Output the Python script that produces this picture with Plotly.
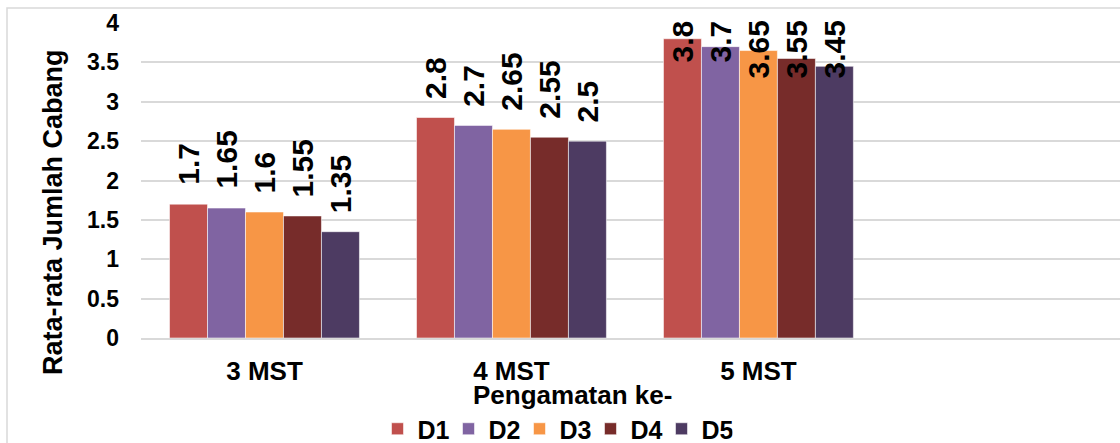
import plotly.graph_objects as go

# Average number of branches per observation week, five treatment doses
categories = ["3 MST", "4 MST", "5 MST"]
series_names = ["D1", "D2", "D3", "D4", "D5"]
d1 = [1.7, 2.8, 3.8]
d2 = [1.65, 2.7, 3.7]
d3 = [1.6, 2.65, 3.65]
d4 = [1.55, 2.55, 3.55]
d5 = [1.35, 2.5, 3.45]
values = [d1, d2, d3, d4, d5]
colors = ["#C0504D", "#8064A2", "#F79646", "#772C2A", "#4D3B62"]

y_ticks = [0, 0.5, 1, 1.5, 2, 2.5, 3, 3.5, 4]
y_tick_text = ["0", "0.5", "1", "1.5", "2", "2.5", "3", "3.5", "4"]

W, H = 1120, 443
M_L, M_R, M_T, M_B = 141, 0, 23, 105
X_RANGE = [-0.5, 3.464]
Y_RANGE = [0, 4]
BARGAP = 0.231

BOLD = "Liberation Sans, Arial, sans-serif"

fig = go.Figure()
for name, vals, col in zip(series_names, values, colors):
    fig.add_trace(go.Bar(
        name=name, x=categories, y=vals,
        marker=dict(color=col, line=dict(color="rgba(255,255,255,0.55)", width=1)),
    ))

# value labels, rotated, above each bar (kept under the top of the plot)
plot_w = W - M_L - M_R
plot_h = H - M_T - M_B
cat_px = plot_w / (X_RANGE[1] - X_RANGE[0])
bar_px = cat_px * (1 - BARGAP) / len(series_names)
px_per_unit = plot_h / (Y_RANGE[1] - Y_RANGE[0])
label_len_px = 62
annotations = []
for i, vals in enumerate(values):
    shift = (i - (len(series_names) - 1) / 2) * bar_px
    for cat, v in zip(categories, vals):
        fits = (Y_RANGE[1] - v) * px_per_unit >= label_len_px + 17
        ann = dict(
            x=cat, xref="x", yref="y", text=f"<b>{v:g}</b>", showarrow=False,
            textangle=-90, xshift=shift,
            font=dict(family=BOLD, size=30, color="#000000"),
        )
        if fits:
            ann.update(y=v, yanchor="bottom", yshift=17)
        else:
            ann.update(y=Y_RANGE[1], yanchor="top", yshift=5)
        annotations.append(ann)

# axis titles
annotations.append(dict(
    text="<b>Rata-rata Jumlah Cabang</b>", xref="paper", yref="paper",
    x=(53 - M_L) / plot_w, y=(H - M_B - 212) / plot_h,
    xanchor="center", yanchor="middle", textangle=-90, showarrow=False,
    font=dict(family=BOLD, size=27, color="#000000"),
))
annotations.append(dict(
    text="<b>Pengamatan ke-</b>", xref="paper", yref="paper",
    x=(572 - M_L) / plot_w, y=(H - M_B - 395) / plot_h,
    xanchor="center", yanchor="middle", showarrow=False,
    font=dict(family=BOLD, size=26, color="#000000"),
))

fig.update_layout(
    width=W, height=H,
    margin=dict(l=M_L, r=M_R, t=M_T, b=M_B, autoexpand=False),
    paper_bgcolor="#FFFFFF", plot_bgcolor="#FFFFFF",
    barmode="group", bargap=BARGAP, bargroupgap=0,
    font=dict(family=BOLD, color="#000000"),
    annotations=annotations,
    shapes=[dict(
        type="rect", xref="paper", yref="paper",
        x0=(7 - M_L) / plot_w, x1=1.05,
        y0=-0.6, y1=1 + (M_T - 8) / plot_h,
        line=dict(color="#D9D9D9", width=1.5), fillcolor="rgba(0,0,0,0)",
        layer="below",
    )],
    showlegend=True,
    legend=dict(
        orientation="h", xref="paper", yref="paper",
        x=(555 - M_L) / plot_w, y=(H - M_B - 429) / plot_h,
        xanchor="center", yanchor="middle",
        font=dict(family=BOLD, size=25, color="#000000", weight="bold"),
        bgcolor="rgba(0,0,0,0)", traceorder="normal",
        itemwidth=30, entrywidth=26, entrywidthmode="pixels",
    ),
    xaxis=dict(
        type="category", range=X_RANGE, showgrid=False,
        showline=True, linecolor="#D9D9D9", linewidth=2,
        ticks="", ticklabelstandoff=9, automargin=False,
        tickfont=dict(family=BOLD, size=26, color="#000000", weight="bold"),
        zeroline=False, fixedrange=True,
    ),
    yaxis=dict(
        range=Y_RANGE, tickvals=y_ticks, ticktext=y_tick_text,
        showgrid=True, gridcolor="#D9D9D9", gridwidth=2,
        showline=False, zeroline=False, ticks="", ticklabelstandoff=21,
        automargin=False,
        tickfont=dict(family=BOLD, size=23, color="#000000", weight="bold"),
        fixedrange=True,
    ),
)

fig.write_html("out.html")
